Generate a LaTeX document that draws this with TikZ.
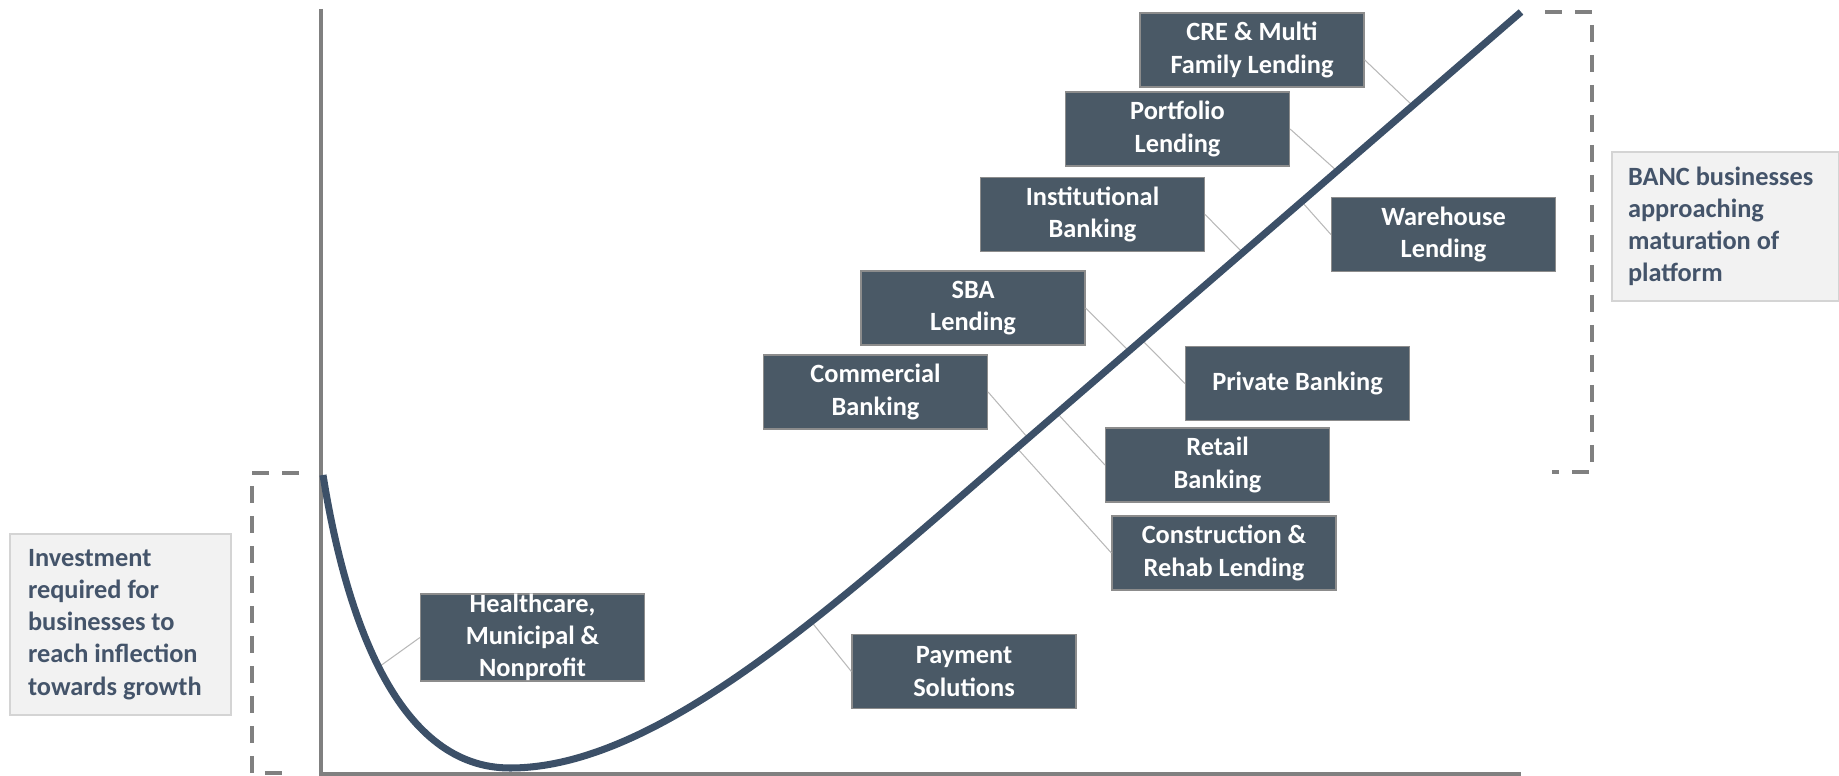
\documentclass[tikz,border=0pt]{standalone}
\usepackage{fontspec}
\setmainfont{Carlito}
\usepackage{tikz}
\usetikzlibrary{arrows,shapes}
\definecolor{slate}{RGB}{74,89,102}
\definecolor{curveblue}{RGB}{60,80,104}
\definecolor{noteslate}{RGB}{68,84,106}
\tikzstyle{unit}=[draw=black!45,line width=0.7pt,fill=slate,text=white,font=\bfseries\fontsize{15}{18.3}\selectfont,align=center,minimum width=4.48cm,minimum height=1.48cm,inner sep=0pt]
\tikzstyle{note}=[draw=black!17,line width=1pt,fill=black!5,text=noteslate,font=\bfseries\fontsize{15}{18.3}\selectfont,align=flush left]
\tikzstyle{leader} = [draw,line width=0.6pt,black!28]
\tikzstyle{axis} = [draw,line width=2.8pt,black!50]
\tikzstyle{bracket} = [draw,line width=2pt,black!50,dash pattern=on 0.34cm off 0.26cm]
\tikzstyle{scurve} = [draw,line width=4pt,curveblue]

\begin{document}
\begin{tikzpicture}[x=0.02cm,y=-0.02cm]
        \useasboundingbox (0,0) rectangle (1839,776);
        % axes
        \coordinate (axtop) at (321,9);
        \coordinate (origin) at (321,774);
        \coordinate (axend) at (1521,774);
        \draw[axis] (axtop) to (origin) to (axend);
        % dashed brackets
        \coordinate (lb1) at (299,473);
        \coordinate (lb2) at (252,473);
        \coordinate (lb3) at (252,773);
        \coordinate (lb4) at (292,773);
        \draw[bracket] (lb1) -- (lb2) -- (lb3) -- (lb4);
        \coordinate (rb1) at (1545,12);
        \coordinate (rb2) at (1592,12);
        \coordinate (rb3) at (1592,472);
        \coordinate (rb4) at (1552,472);
        \draw[bracket] (rb1) -- (rb2) -- (rb3) -- (rb4);
        \node[note,minimum width=4.42cm,minimum height=3.62cm,text width=3.7cm,inner xsep=0.36cm] (invest) at (120.5,624.5) {Investment\\required for\\businesses to\\reach inflection\\towards growth};
        \node[note,minimum width=4.54cm,minimum height=2.98cm,text width=3.9cm,inner xsep=0.32cm] (mature) at (1725.5,226.5) {BANC businesses\\approaching\\maturation of\\platform};
        % business lines
        \node[unit] (cre) at (1252,50) {CRE \& Multi\\Family Lending};
        \node[unit] (portfolio) at (1177.5,129) {Portfolio\\Lending};
        \node[unit] (institutional) at (1092.5,214.5) {Institutional\\Banking};
        \node[unit] (warehouse) at (1443.5,234.5) {Warehouse\\Lending};
        \node[unit] (sba) at (973,308) {SBA\\Lending};
        \node[unit] (private) at (1297.5,383.5) {Private Banking};
        \node[unit] (commercial) at (875.5,392) {Commercial\\Banking};
        \node[unit] (retail) at (1217.5,465) {Retail\\Banking};
        \node[unit] (construction) at (1224,553) {Construction \&\\Rehab Lending};
        \node[unit] (payment) at (964,671.5) {Payment\\Solutions};
        \node[unit] (healthcare) at (532.5,637.5) {Healthcare,\\Municipal \&\\Nonprofit};
        % points on the curve
        \coordinate (c-cre) at (1413,106);
        \coordinate (c-portfolio) at (1337,171);
        \coordinate (c-institutional) at (1243,253);
        \coordinate (c-warehouse) at (1302,202);
        \coordinate (c-sba) at (1129,351);
        \coordinate (c-private) at (1142,340);
        \coordinate (c-commercial) at (1028,438);
        \coordinate (c-retail) at (1057,413);
        \coordinate (c-construction) at (1017,448);
        \coordinate (c-payment) at (810,620);
        \coordinate (c-healthcare) at (376,669);
        \draw[leader] (cre.-5) to (c-cre);
        \draw[leader] (portfolio.east) to (c-portfolio);
        \draw[leader] (institutional.east) to (c-institutional);
        \draw[leader] (warehouse.west) to (c-warehouse);
        \draw[leader] (sba.east) to (c-sba);
        \draw[leader] (private.west) to (c-private);
        \draw[leader] (commercial.east) to (c-commercial);
        \draw[leader] (retail.west) to (c-retail);
        \draw[leader] (construction.west) to (c-construction);
        \draw[leader] (payment.west) to (c-payment);
        \draw[leader] (healthcare.west) to (c-healthcare);
        % growth curve
        \coordinate (cstart) at (323,475);
        \coordinate (cmin) at (510,768);
        \coordinate (cmid) at (1026,440);
        \coordinate (cend) at (1521,12);
        \draw[scurve] (cstart) .. controls (347,625) and (400,768) .. (cmin)
                .. controls (660,768) and (837,603) .. (cmid) -- (cend);
      \end{tikzpicture}
\end{document}
